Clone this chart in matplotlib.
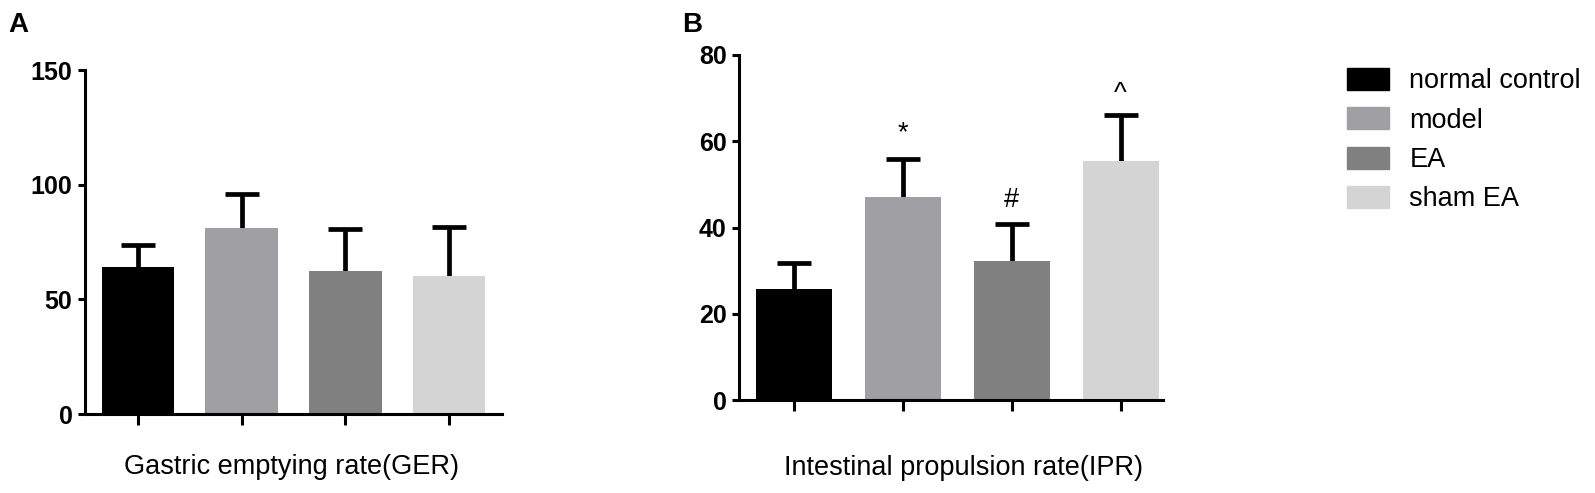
import matplotlib
matplotlib.use("Agg")
import matplotlib.pyplot as plt
import numpy as np

groups = ["normal control", "model", "EA", "sham EA"]
colors = ["#000000", "#a0a0a4", "#808080", "#d4d4d4"]

ger_mean = [64.1, 81.0, 62.4, 60.2]
ger_sd = [9.6, 14.9, 18.1, 21.5]

ipr_mean = [25.7, 47.1, 32.3, 55.5]
ipr_sd = [6.0, 8.9, 8.5, 10.6]
ipr_marks = ["", "*", "#", "^"]

W, H = 1595, 493
fig = plt.figure(figsize=(W / 100, H / 100), dpi=100)

tick_family = ["Liberation Sans Narrow", "Liberation Sans", "DejaVu Sans"]
label_font = dict(family=["Liberation Sans", "DejaVu Sans"], size=19.5)


def px_axes(l, r, b, t):
    return fig.add_axes([l / W, 1 - b / H, (r - l) / W, (b - t) / H])


def panel(ax, means, sds, ymax, ystep, xright, xlabel, label_x):
    x = np.arange(len(means))
    ax.bar(x, means, width=0.7, color=colors, zorder=2)
    ax.errorbar(x, means, yerr=sds, fmt="none",
                ecolor="black", elinewidth=3.4, capsize=12, capthick=3.4, zorder=1)
    ax.set_xlim(-0.51, xright)
    ax.set_ylim(0, ymax)
    ax.set_yticks(np.arange(0, ymax + 1, ystep))
    ax.set_xticks(x)
    ax.set_xticklabels([])
    for s in ["top", "right"]:
        ax.spines[s].set_visible(False)
    for s in ["left", "bottom"]:
        ax.spines[s].set_linewidth(2.2)
    ax.tick_params(axis="y", length=5, width=2.2, pad=4)
    ax.tick_params(axis="x", length=8, width=2.2)
    for t in ax.get_yticklabels():
        t.set_fontfamily(tick_family)
        t.set_fontweight("bold")
        t.set_fontsize(18)
    ax.set_xlabel(xlabel, **label_font)
    ax.xaxis.set_label_coords(label_x, -0.115)


axA = px_axes(85, 502, 414, 70)
panel(axA, ger_mean, ger_sd, 150, 50, 3.51, "Gastric emptying rate(GER)", 0.495)

axB = px_axes(739, 1163, 400, 55)
panel(axB, ipr_mean, ipr_sd, 80, 20, 3.39, "Intestinal propulsion rate(IPR)", 0.53)
axB.xaxis.set_label_coords(0.53, -0.16)

offsets = [0, 13, 12, 10]
for i, m in enumerate(ipr_marks):
    if m:
        axB.annotate(m, (i, ipr_mean[i] + ipr_sd[i]), xytext=(0, offsets[i]),
                     textcoords="offset points", ha="center", va="baseline",
                     **label_font)

fig.text(8 / W, 1 - 32 / H, "A", family=["Liberation Sans", "DejaVu Sans"],
         weight="bold", size=20)
fig.text(682 / W, 1 - 32 / H, "B", family=["Liberation Sans", "DejaVu Sans"],
         weight="bold", size=20)

handles = [plt.Rectangle((0, 0), 1, 1, color=c) for c in colors]
fig.legend(handles, groups, loc="upper left", bbox_to_anchor=(1347 / W, 1 - 68 / H),
           frameon=False, prop=dict(family=["Liberation Sans", "DejaVu Sans"], size=19.5),
           handlelength=1.55, handleheight=0.87, handletextpad=0.75,
           labelspacing=0.48, borderpad=0, borderaxespad=0)

fig.savefig("out.png", dpi=100)
